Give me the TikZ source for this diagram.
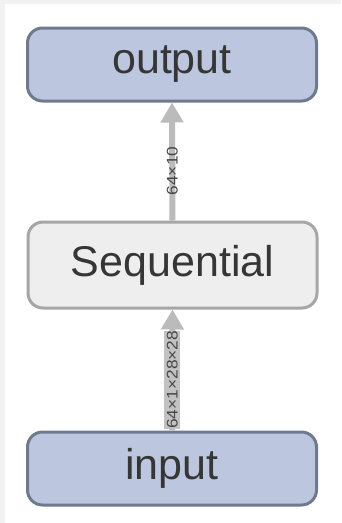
\documentclass[tikz,border=0pt]{standalone}
\usepackage{fontspec}
\setmainfont{Liberation Sans}
\usetikzlibrary{arrows.meta}
\definecolor{bluefill}{HTML}{BCC6DE}
\definecolor{blueedge}{HTML}{6F7A8E}
\definecolor{greyfill}{HTML}{EEEEEE}
\definecolor{greyedge}{HTML}{A6A6A6}
\definecolor{arrowcol}{HTML}{BBBBBB}
\definecolor{labfill}{HTML}{C2C2C2}
\definecolor{txt}{HTML}{363636}
\definecolor{lbl}{HTML}{474747}
\definecolor{pagegrey}{HTML}{F2F2F2}
\tikzset{
  box/.style={rounded corners=15pt, line width=3pt, minimum width=289pt, inner sep=0pt,
    font=\fontsize{43}{43}\selectfont, text=txt},
  bluebox/.style={box, fill=bluefill, draw=blueedge, minimum height=73pt},
  greybox/.style={box, fill=greyfill, draw=greyedge, minimum height=86pt},
  flow/.style={draw=arrowcol, line width=6pt, -{Triangle[width=22pt,length=20pt]}},
  lab/.style={rotate=90, pos=0.42, font=\fontsize{15.5}{15.5}\selectfont, text=lbl, inner xsep=0pt, inner ysep=1pt},
}
\newcommand{\stretchlab}[1]{\scalebox{1.12}[1]{#1}}
\begin{document}
\begin{tikzpicture}[x=1pt,y=-1pt]
\useasboundingbox (0,0) rectangle (341,523);
\fill[pagegrey] (0,0) rectangle (341,523);
\fill[white] (5,4) rectangle (341,523);
\node[bluebox] (output) at (172,64.5) {output};
\node[greybox] (seq) at (172.5,265) {Sequential};
\node[bluebox] (input) at (172,468.5) {input};
\draw[flow] (seq.north) -- node[lab] (l1) {\stretchlab{64×10}} (output.south);
\draw[flow] (input.north) -- node[lab, fill=labfill, minimum height=16pt] (l2) {\stretchlab{64×1×28×28}} (seq.south);
\end{tikzpicture}
\end{document}
